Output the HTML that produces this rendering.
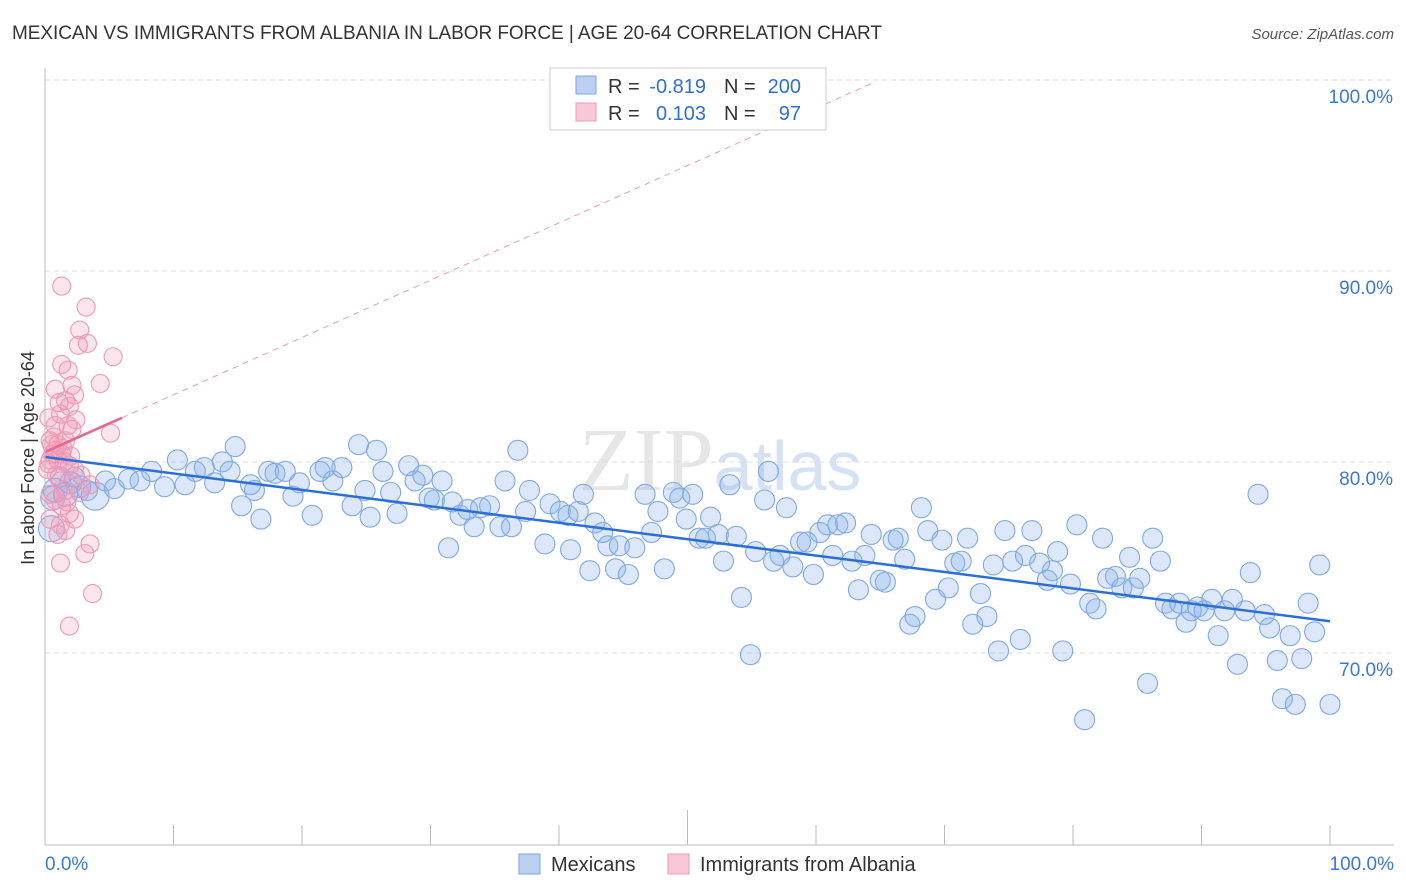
<!DOCTYPE html>
<html><head><meta charset="utf-8"><style>
body{margin:0;background:#fff;font-family:"Liberation Sans",sans-serif;}
svg{display:block}
</style></head><body>
<svg id="chart" width="1406" height="892">
<text x="12" y="39" font-size="19" fill="#333" textLength="870">MEXICAN VS IMMIGRANTS FROM ALBANIA IN LABOR FORCE | AGE 20-64 CORRELATION CHART</text>
<text x="1394" y="39" font-size="15" fill="#555" font-style="italic" text-anchor="end">Source: ZipAtlas.com</text>
<text x="720" y="490" font-size="90" fill="#e6e6e6" text-anchor="middle" font-family="Liberation Serif">ZIP<tspan fill="#d6e2f3" font-family="Liberation Sans" font-size="70">atlas</tspan></text>
<text transform="translate(34,458) rotate(-90)" font-size="18" fill="#333" text-anchor="middle">In Labor Force | Age 20-64</text>
<g id="grid"></g>
<g id="pts"></g>
<g id="lines"></g>
<line x1="45" y1="68" x2="45" y2="845" stroke="#bbb"/>
<line x1="45" y1="845" x2="1394" y2="845" stroke="#bbb"/>
<text x="45" y="870" font-size="19" fill="#3a78d8">0.0%</text>
<text x="1394" y="870" font-size="19" fill="#3a78d8" text-anchor="end">100.0%</text>
<g>
<rect x="550" y="68" width="276" height="62" fill="#fff" stroke="#ccc"/>
<rect x="576" y="76" width="20" height="18" fill="#b9d0f2" stroke="#7ea6e3"/>
<rect x="576" y="103" width="20" height="18" fill="#f9c8d6" stroke="#ee9ab3"/>
<text x="608" y="93" font-size="20" fill="#333">R =</text>
<text x="706" y="93" font-size="20" fill="#2f6fd6" text-anchor="end">-0.819</text>
<text x="724" y="93" font-size="20" fill="#333">N =</text>
<text x="801" y="93" font-size="20" fill="#2f6fd6" text-anchor="end">200</text>
<text x="608" y="120" font-size="20" fill="#333">R =</text>
<text x="706" y="120" font-size="20" fill="#2f6fd6" text-anchor="end">0.103</text>
<text x="724" y="120" font-size="20" fill="#333">N =</text>
<text x="801" y="120" font-size="20" fill="#2f6fd6" text-anchor="end">97</text>
</g>
<g>
<rect x="519" y="854" width="21" height="20" fill="#b9d0f2" stroke="#7ea6e3"/>
<text x="551" y="871" font-size="20" fill="#333">Mexicans</text>
<rect x="668" y="854" width="21" height="20" fill="#f9c8d6" stroke="#ee9ab3"/>
<text x="700" y="871" font-size="20" fill="#333">Immigrants from Albania</text>
</g>
</svg>
<script>
const yTicks=[100,90,80,70];
const xTicks=[0,10,20,30,40,50,60,70,80,90,100];
const blueX=[0.5,0.8,2.0,2.7,3.9,5.4,4.7,6.5,7.4,8.3,9.3,10.3,10.9,11.7,12.4,13.2,13.8,14.4,14.8,15.3,16.0,16.3,16.8,17.4,17.9,18.7,19.3,19.8,20.8,21.4,21.8,22.4,23.1,23.9,24.4,24.9,25.3,25.8,26.3,26.9,27.4,28.3,28.8,29.4,29.9,30.3,30.9,31.4,31.7,32.3,32.9,33.4,33.9,34.6,35.4,35.8,36.3,36.8,37.4,37.7,38.9,39.3,40.1,40.7,40.9,41.5,41.9,42.4,42.8,43.4,43.8,44.4,44.7,45.4,45.9,46.7,47.2,47.7,48.2,48.9,49.4,49.9,50.4,50.9,51.4,51.8,52.4,52.8,53.3,53.8,54.2,54.9,55.3,56.0,56.3,56.7,57.2,57.7,58.2,58.8,59.3,59.8,60.3,60.9,61.3,61.7,62.3,62.8,63.3,63.8,64.3,65.0,65.4,66.0,66.4,66.9,67.3,67.7,68.2,68.7,69.3,69.8,70.3,70.8,71.3,71.8,72.2,72.8,73.3,73.8,74.2,74.7,75.3,75.9,76.3,76.8,77.4,78.0,78.4,78.8,79.2,79.8,80.3,80.9,81.3,81.8,82.3,82.7,83.3,83.8,84.4,84.7,85.2,85.8,86.2,86.8,87.2,87.7,88.3,88.8,89.2,89.7,90.2,90.8,91.3,91.8,92.4,92.8,93.4,93.8,94.4,94.9,95.3,95.9,96.3,96.9,97.3,97.8,98.3,98.8,99.2,100,1.2,2.3,3.3,0.6,1.6];
const blueY=[77.4,79.4,79.8,79.6,79.1,79.5,79.9,80.0,79.9,80.4,79.6,81.0,79.7,80.4,80.6,79.8,80.9,80.4,81.7,78.6,79.7,79.4,77.9,80.4,80.3,80.4,79.1,79.8,78.1,80.4,80.6,79.9,80.6,78.6,81.8,79.4,78.0,81.5,80.4,79.3,78.2,80.7,79.9,80.2,79.0,78.9,79.9,76.4,78.8,78.1,78.4,77.5,78.5,78.6,77.5,79.9,77.5,81.5,78.3,79.4,76.6,78.7,78.3,78.1,76.3,78.3,79.2,75.2,77.7,77.2,76.5,75.3,76.5,75.0,76.4,79.2,77.2,78.3,75.3,79.3,79.0,77.9,79.2,76.9,76.9,78.0,77.1,75.7,79.7,77.0,73.8,70.8,76.2,78.9,80.4,75.7,76.0,78.5,75.4,76.7,76.7,75.0,77.2,77.6,76.0,77.6,77.7,75.7,74.2,76.0,77.1,74.7,74.6,76.8,76.9,75.8,72.4,72.8,78.5,77.3,73.7,76.8,74.3,75.6,75.7,76.9,72.4,74.0,72.8,75.5,71.0,77.3,75.7,71.6,76.0,77.3,75.6,74.7,75.2,76.2,71.0,74.5,77.6,67.4,73.5,73.2,76.9,74.8,74.9,74.3,75.9,74.3,74.8,69.3,76.9,75.7,73.5,73.2,73.5,72.5,73.1,73.3,73.1,73.7,71.8,73.1,73.7,70.3,73.1,75.1,79.2,72.9,72.2,70.5,68.5,71.8,68.2,70.6,73.5,72.0,75.5,68.2,80.1,80.1,79.4,79.0,79.2];
const blueR=[13,12,11,11,14,10,10,10,10,10,10,10,10,10,10,10,10,10,10,10,10,10,10,10,10,10,10,10,10,10,10,10,10,10,10,10,10,10,10,10,10,10,10,10,10,10,10,10,10,10,10,10,10,10,10,10,10,10,10,10,10,10,10,10,10,10,10,10,10,10,10,10,10,10,10,10,10,10,10,10,10,10,10,10,10,10,10,10,10,10,10,10,10,10,10,10,10,10,10,10,10,10,10,10,10,10,10,10,10,10,10,10,10,10,10,10,10,10,10,10,10,10,10,10,10,10,10,10,10,10,10,10,10,10,10,10,10,10,10,10,10,10,10,10,10,10,10,10,10,10,10,10,10,10,10,10,10,10,10,10,10,10,10,10,10,10,10,10,10,10,10,10,10,10,10,10,10,10,10,10,10,10,10,10,10,12,12,12,15,13];
const pinkX=[1.3,3.2,2.7,3.3,2.6,5.3,1.3,1.8,4.3,0.8,2.1,1.6,1.9,1.2,0.8,5.1,0.4,1.0,1.6,0.4,0.8,1.3,1.9,2.3,0.2,1.2,1.6,2.7,3.5,0.8,1.3,1.9,0.4,1.2,2.3,1.0,1.6,3.5,3.1,1.2,3.7,1.9,0.4,1.8,2.3,2.1,0.6,1.0,1.4,0.3,0.9,2.0,0.5,1.5,0.7,2.4,1.1,0.3,2.8,1.7];
const pinkY=[90.1,89.0,87.8,87.1,87.0,86.4,86.0,85.7,85.0,84.7,84.9,84.1,83.8,83.4,82.8,82.4,82.0,81.8,82.0,81.0,81.5,81.3,80.7,80.5,80.5,79.9,79.4,79.3,79.7,78.9,78.6,78.2,77.9,77.6,77.9,77.1,77.3,76.6,76.1,75.6,74.0,72.3,79.2,82.8,84.4,82.6,81.3,81.0,81.6,80.8,80.2,81.2,81.8,80.9,82.2,83.1,84.0,83.2,80.2,78.8];
const blueTrend=[81.15,72.55];
const pinkTrend=[81.41,0.30];
const NS='http://www.w3.org/2000/svg';
const X0=45,X1=1330,Y100=97,PX=19.1;
function xs(v){return X0+(X1-X0)*v/100;}
function ys(v){return Y100+(100-v)*PX;}
function mk(tag,attrs,parent){const e=document.createElementNS(NS,tag);for(const k in attrs)e.setAttribute(k,attrs[k]);parent.appendChild(e);return e;}
const grid=document.getElementById('grid');
yTicks.forEach(t=>{
 const gy=ys(t)-17;
 const l=mk('line',{x1:45,x2:1394,y1:gy,y2:gy,stroke:'#ddd','stroke-dasharray':'5,4'},grid);
 
 
 const tx=mk('text',{x:1393,y:ys(t)+6,'font-size':19,fill:'#3a78d8','text-anchor':'end'},grid);
 tx.textContent=t.toFixed(1)+'%';
 
 
});
xTicks.forEach(t=>{
 const l=mk('line',{x1:xs(t),x2:xs(t),y1:t===50?810:825,y2:845,stroke:'#bbb'},grid);
 
 
});
const pts=document.getElementById('pts');
blueX.forEach((v,i)=>{
 const c=mk('circle',{cx:xs(v),cy:ys(blueY[i]),r:blueR[i],fill:'rgba(140,180,235,0.3)',stroke:'#7fa8e6','stroke-width':1.1},pts);
 
 
});
pinkX.forEach((v,i)=>{
 const c=mk('circle',{cx:xs(v),cy:ys(pinkY[i]),r:9,fill:'rgba(242,150,180,0.25)',stroke:'#ef98b4','stroke-width':1.1},pts);
 
 
});
const lines=document.getElementById('lines');
const bl=mk('line',{x1:xs(0),y1:ys(blueTrend[0]),x2:xs(100),y2:ys(blueTrend[1]),stroke:'#2a6fd6','stroke-width':2.5},lines);


const pe=6,pd=64.6;
const pl=mk('line',{x1:xs(0),y1:ys(pinkTrend[0]),x2:xs(pe),y2:ys(pinkTrend[0]+pinkTrend[1]*pe),stroke:'#e8678f','stroke-width':2.5},lines);


const pdl=mk('line',{x1:xs(pe),y1:ys(pinkTrend[0]+pinkTrend[1]*pe),x2:xs(pd),y2:ys(pinkTrend[0]+pinkTrend[1]*pd),stroke:'#eb9ab2','stroke-width':1,'stroke-dasharray':'6,5'},lines);


</script>
</body></html>
